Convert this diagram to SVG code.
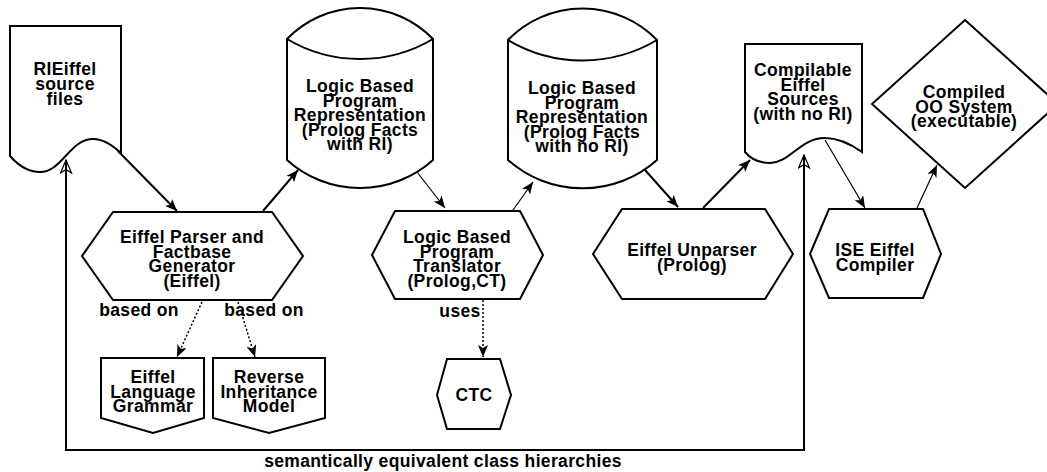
<svg xmlns="http://www.w3.org/2000/svg" width="1047" height="472" viewBox="0 0 1047 472">
  <style>
    .shape { fill: #ffffff; stroke: #000000; stroke-width: 2; stroke-linejoin: miter; }
    .lbl { font-family: "Liberation Sans", Arial, sans-serif; font-weight: bold; font-size: 17.5px; letter-spacing: 0.35px; fill: #000000; text-anchor: middle; }
    .edge { fill: none; stroke: #000000; }
    .thick { stroke-width: 2; }
    .thin { stroke-width: 1.2; }
    .dotted { stroke-width: 1.5; stroke-dasharray: 2 2; }
  </style>
  <defs>
    <marker id="arrow" markerUnits="userSpaceOnUse" viewBox="0 0 12 10" refX="12" refY="5" markerWidth="12" markerHeight="10" orient="auto">
      <path d="M0,0 L12,5 L0,10 L3,5 Z" fill="#000000"/>
    </marker>
    <marker id="open" markerUnits="userSpaceOnUse" viewBox="-1 -1 15 13" refX="13" refY="5.5" markerWidth="15" markerHeight="13" orient="auto-start-reverse">
      <path d="M0,0 L13,5.5 L0,11 L3.5,5.5 Z" fill="none" stroke="#000000" stroke-width="1.2"/>
    </marker>
  </defs>
  <rect width="1047" height="472" fill="#ffffff"/>

  <!-- connectors -->
  <g id="connectors">
    <path class="edge thick" d="M118,151 L177,211" marker-end="url(#arrow)"/>
    <path class="edge thick" d="M263,211 L298,170" marker-end="url(#arrow)"/>
    <path class="edge thin" d="M417,172 L445,208" marker-end="url(#arrow)"/>
    <path class="edge thin" d="M513,210 L533,182" marker-end="url(#arrow)"/>
    <path class="edge thick" d="M645,170 L678,207" marker-end="url(#arrow)"/>
    <path class="edge thick" d="M703,208 L750,160" marker-end="url(#arrow)"/>
    <path class="edge thin" d="M825,140 L865,208" marker-end="url(#arrow)"/>
    <path class="edge thin" d="M917,208 L937,165" marker-end="url(#arrow)"/>
    <path class="edge thick" d="M804,155 V450 H66 V160" marker-start="url(#open)" marker-end="url(#open)"/>
    <path class="edge dotted" d="M202,302 L177,357" marker-end="url(#arrow)"/>
    <path class="edge dotted" d="M238,302 L255,357" marker-end="url(#arrow)"/>
    <path class="edge dotted" d="M483,300 L483,357" marker-end="url(#arrow)"/>
    <text class="lbl" x="139" y="316">based on</text>
    <text class="lbl" x="264" y="316">based on</text>
    <text class="lbl" x="460" y="317">uses</text>
    <text class="lbl" x="443" y="467">semantically equivalent class hierarchies</text>
  </g>

  <!-- RIEiffel source files (document) -->
  <g id="rieiffel-sources">
    <path class="shape" d="M10,26 H121 V153 C113,146 104,139 93,139 C70,139 62,172 40,172 C26,172 17,164 10,156 Z"/>
    <text class="lbl" x="65" y="75">RIEiffel<tspan x="65" dy="15">source</tspan><tspan x="65" dy="15">files</tspan></text>
  </g>

  <!-- Logic Based Program Representation with RI (store) -->
  <g id="repr-with-ri">
    <path class="shape" d="M287,39 A101.5,101.5 0 0 1 433,39 V160 A109,109 0 0 1 287,160 Z"/>
    <path class="edge thick" d="M287,39 A143,143 0 0 0 433,39"/>
    <text class="lbl" x="360" y="92">Logic Based<tspan x="360" dy="14.5">Program</tspan><tspan x="360" dy="14.5">Representation</tspan><tspan x="360" dy="14.5">(Prolog Facts</tspan><tspan x="360" dy="14.5">with RI)</tspan></text>
  </g>

  <!-- Logic Based Program Representation with no RI (store) -->
  <g id="repr-no-ri">
    <path class="shape" d="M508,40 A104,104 0 0 1 657,40 V160 A112,112 0 0 1 508,160 Z"/>
    <path class="edge thick" d="M508,40 A146,146 0 0 0 657,40"/>
    <text class="lbl" x="582" y="94">Logic Based<tspan x="582" dy="14.5">Program</tspan><tspan x="582" dy="14.5">Representation</tspan><tspan x="582" dy="14.5">(Prolog Facts</tspan><tspan x="582" dy="14.5">with no RI)</tspan></text>
  </g>

  <!-- Compilable Eiffel Sources (document) -->
  <g id="compilable-sources">
    <path class="shape" d="M745,44 H862 V152 C852,145 840,138 825,138 C800,138 790,163 770,163 C758,163 750,158 745,152 Z"/>
    <text class="lbl" x="803" y="76">Compilable<tspan x="803" dy="14.5">Eiffel</tspan><tspan x="803" dy="14.5">Sources</tspan><tspan x="803" dy="14.5">(with no RI)</tspan></text>
  </g>

  <!-- Compiled OO System (decision) -->
  <g id="compiled-system">
    <path class="shape" d="M965,20 L1058,104 L965,188 L872,104 Z"/>
    <text class="lbl" x="964" y="98">Compiled<tspan x="964" dy="14.5">OO System</tspan><tspan x="964" dy="14.5">(executable)</tspan></text>
  </g>

  <!-- Eiffel Parser and Factbase Generator (process) -->
  <g id="parser">
    <path class="shape" d="M113,212 H272 L303,256 L272,300 H113 L82,256 Z"/>
    <text class="lbl" x="192" y="243">Eiffel Parser and<tspan x="192" dy="14.5">Factbase</tspan><tspan x="192" dy="14.5">Generator</tspan><tspan x="192" dy="14.5">(Eiffel)</tspan></text>
  </g>

  <!-- Logic Based Program Translator (process) -->
  <g id="translator">
    <path class="shape" d="M395,211 H520 L543,255 L520,299 H395 L372,255 Z"/>
    <text class="lbl" x="457" y="243">Logic Based<tspan x="457" dy="14.5">Program</tspan><tspan x="457" dy="14.5">Translator</tspan><tspan x="457" dy="14.5">(Prolog,CT)</tspan></text>
  </g>

  <!-- Eiffel Unparser (process) -->
  <g id="unparser">
    <path class="shape" d="M622,209 H765 L793,254 L765,299 H622 L593,254 Z"/>
    <text class="lbl" x="692" y="256">Eiffel Unparser<tspan x="692" dy="14.5">(Prolog)</tspan></text>
  </g>

  <!-- ISE Eiffel Compiler (process) -->
  <g id="ise-compiler">
    <path class="shape" d="M829,209 H923 L941,254 L923,298 H829 L810,254 Z"/>
    <text class="lbl" x="875" y="256">ISE Eiffel<tspan x="875" dy="14.5">Compiler</tspan></text>
  </g>

  <!-- CTC (process) -->
  <g id="ctc">
    <path class="shape" d="M447,359 H500 L511,395 L500,429 H447 L437,395 Z"/>
    <text class="lbl" x="474" y="401">CTC</text>
  </g>

  <!-- Eiffel Language Grammar (off-page reference) -->
  <g id="grammar">
    <path class="shape" d="M101,358 H204 V418 L153,433 L101,418 Z"/>
    <text class="lbl" x="153" y="383">Eiffel<tspan x="153" dy="14.5">Language</tspan><tspan x="153" dy="14.5">Grammar</tspan></text>
  </g>

  <!-- Reverse Inheritance Model (off-page reference) -->
  <g id="ri-model">
    <path class="shape" d="M213,358 H325 V418 L269,433 L213,418 Z"/>
    <text class="lbl" x="269" y="383">Reverse<tspan x="269" dy="14.5">Inheritance</tspan><tspan x="269" dy="14.5">Model</tspan></text>
  </g>
</svg>
